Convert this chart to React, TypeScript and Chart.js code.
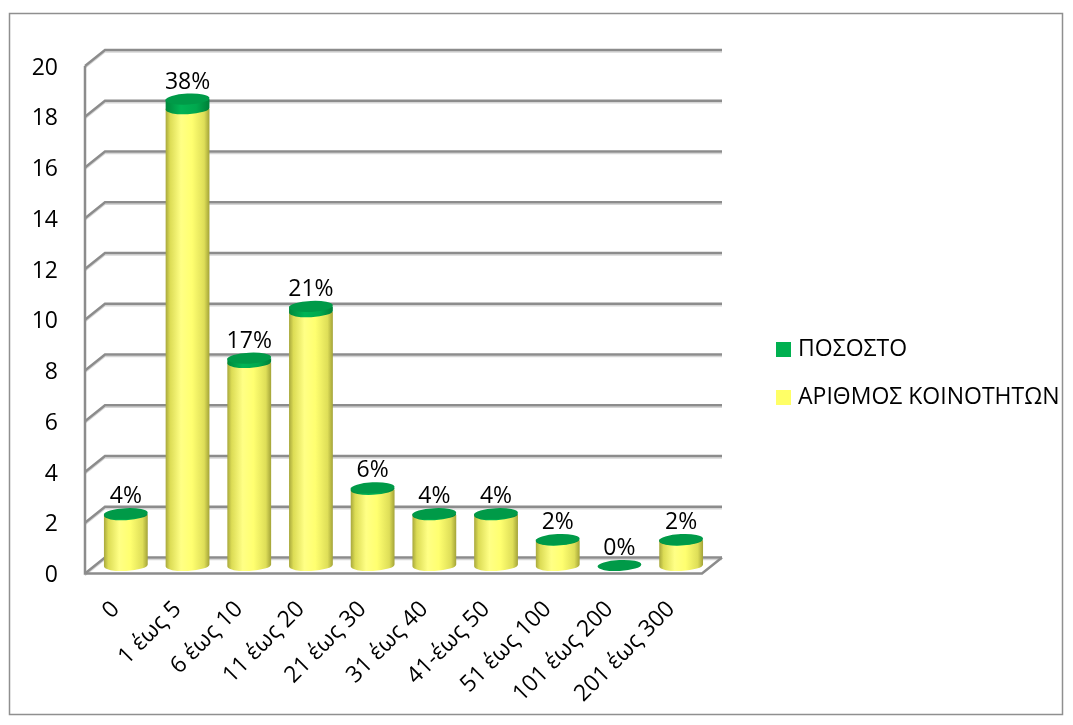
import React, { useEffect, useRef } from "react";
import { Chart, registerables } from "chart.js";

Chart.register(...registerables);

const categories = ["0", "1 έως 5", "6 έως 10", "11 έως 20", "21 έως 30", "31 έως 40", "41-έως 50", "51 έως 100", "101 έως 200", "201 έως 300"];
const countValues = [2, 18, 8, 10, 3, 2, 2, 1, 0, 1];
const percentValues = [0.04, 0.38, 0.17, 0.21, 0.06, 0.04, 0.04, 0.02, 0, 0.02];
const percentLabels = ["4%", "38%", "17%", "21%", "6%", "4%", "4%", "2%", "0%", "2%"];
const yTicks = [0, 2, 4, 6, 8, 10, 12, 14, 16, 18, 20];
const seriesNames = ["ΑΡΙΘΜΟΣ ΚΟΙΝΟΤΗΤΩΝ", "ΠΟΣΟΣΤΟ"];

const FONT = '"Open Sans", "Noto Sans", sans-serif';
const DX = 10;
const DY = 8;
const RY = 5.5;
const TILT = -0.05;

function cylinderBody(ctx: CanvasRenderingContext2D, x: number, top: number, base: number, rx: number, fill: CanvasGradient | string) {
  ctx.beginPath();
  ctx.moveTo(x - rx, top);
  ctx.lineTo(x - rx, base);
  ctx.ellipse(x, base, rx, RY, TILT, Math.PI, 0, true);
  ctx.lineTo(x + rx, top);
  ctx.closePath();
  ctx.fillStyle = fill;
  ctx.fill();
}

const threeDPlugin = {
  id: "threeD",
  beforeDatasetsDraw(chart: any) {
    const { ctx, chartArea, scales } = chart;
    const y = scales.y;
    const x = scales.x;
    const L = chartArea.left;
    const R = chartArea.right;
    ctx.save();
    // outer frame
    ctx.strokeStyle = "#8f8f8f";
    ctx.lineWidth = 1.5;
    ctx.strokeRect(9.5, 13.5, 1053, 701);

    // back wall gridlines with left-wall diagonals
    ctx.lineCap = "butt";
    for (const v of yTicks) {
      const py = y.getPixelForValue(v);
      ctx.strokeStyle = "#d6d6d6";
      ctx.lineWidth = 1.5;
      ctx.beginPath();
      ctx.moveTo(L - DX, py + DY + 2);
      ctx.lineTo(L + DX, py - DY + 2);
      ctx.lineTo(R + DX, py - DY + 2);
      ctx.stroke();
      ctx.strokeStyle = "#8c8c8c";
      ctx.lineWidth = 2.5;
      ctx.beginPath();
      ctx.moveTo(L - DX, py + DY);
      ctx.lineTo(L + DX, py - DY);
      ctx.lineTo(R + DX, py - DY);
      ctx.stroke();
    }
    // front axis and floor
    const y0 = y.getPixelForValue(0);
    const yTop = y.getPixelForValue(yTicks[yTicks.length - 1]);
    ctx.strokeStyle = "#8c8c8c";
    ctx.lineWidth = 2.5;
    ctx.beginPath();
    ctx.moveTo(L - DX, yTop + DY);
    ctx.lineTo(L - DX, y0 + DY);
    ctx.lineTo(R - DX, y0 + DY);
    ctx.lineTo(R + DX, y0 - DY);
    ctx.stroke();

    // tick labels
    ctx.fillStyle = "#000";
    ctx.font = `23px ${FONT}`;
    ctx.textAlign = "right";
    ctx.textBaseline = "middle";
    for (const v of yTicks) {
      ctx.fillText(String(v), L - DX - 27, y.getPixelForValue(v) + DY + 2);
    }

    // category labels
    categories.forEach((c, i) => {
      const cx = x.getPixelForValue(i);
      ctx.save();
      ctx.translate(cx - 10, y0 + DY + 32);
      ctx.rotate(-Math.PI / 4);
      ctx.textAlign = "right";
      ctx.textBaseline = "middle";
      ctx.fillText(c, 0, 0);
      ctx.restore();
    });

    // legend
    const legend = [
      { name: seriesNames[1], color: "#00b050", y: 349.5 },
      { name: seriesNames[0], color: "#ffff66", y: 397.5 },
    ];
    ctx.font = `23px ${FONT}`;
    ctx.textAlign = "left";
    ctx.textBaseline = "middle";
    for (const it of legend) {
      ctx.fillStyle = it.color;
      ctx.fillRect(776, it.y - 7.5, 15, 15);
      ctx.fillStyle = "#000";
      ctx.fillText(it.name, 798, it.y);
    }
    ctx.restore();
  },
  afterDatasetsDraw(chart: any) {
    const { ctx } = chart;
    const m0 = chart.getDatasetMeta(0);
    const m1 = chart.getDatasetMeta(1);
    ctx.save();
    categories.forEach((_, i) => {
      const ye = m0.data[i].getProps(["x", "y", "base", "width"], true);
      const ge = m1.data[i].getProps(["x", "y", "base", "width"], true);
      const cx = ye.x;
      const rx = ye.width / 2;
      const yg = ctx.createLinearGradient(cx - rx, 0, cx + rx, 0);
      yg.addColorStop(0, "#a8a83c");
      yg.addColorStop(0.1, "#dcdc55");
      yg.addColorStop(0.35, "#ffff85");
      yg.addColorStop(0.6, "#ffff70");
      yg.addColorStop(0.88, "#dede58");
      yg.addColorStop(1, "#a3a338");
      const gg = ctx.createLinearGradient(cx - rx, 0, cx + rx, 0);
      gg.addColorStop(0, "#00883c");
      gg.addColorStop(0.35, "#00b455");
      gg.addColorStop(0.7, "#00a84e");
      gg.addColorStop(1, "#007f38");
      if (countValues[i] > 0) cylinderBody(ctx, cx, ye.y, ye.base, rx, yg);
      if (ge.base - ge.y > 0.3) cylinderBody(ctx, cx, ge.y, ge.base, rx, gg);
      // top cap
      ctx.beginPath();
      ctx.ellipse(cx, ge.y, rx, RY, TILT, 0, Math.PI * 2);
      ctx.fillStyle = "#009a48";
      ctx.fill();
      // data label
      ctx.fillStyle = "#000";
      ctx.font = `23px ${FONT}`;
      ctx.textAlign = "center";
      ctx.textBaseline = "middle";
      ctx.fillText(percentLabels[i], cx, ge.y - 17);
    });
    ctx.restore();
  },
};

export default function App() {
  const ref = useRef<HTMLCanvasElement>(null);
  useEffect(() => {
    if (!ref.current) return;
    const chart = new Chart(ref.current, {
      type: "bar",
      data: {
        labels: categories,
        datasets: [
          { label: seriesNames[0], data: countValues, stack: "s", backgroundColor: "rgba(0,0,0,0)", borderWidth: 0 },
          { label: seriesNames[1], data: percentValues, stack: "s", backgroundColor: "rgba(0,0,0,0)", borderWidth: 0 },
        ],
      },
      options: {
        responsive: false,
        animation: false,
        events: [],
        layout: { padding: { left: 95, right: 361, top: 58, bottom: 159.5 } },
        datasets: { bar: { categoryPercentage: 0.71, barPercentage: 1 } },
        scales: {
          x: { stacked: true, display: false },
          y: { stacked: true, display: false, min: 0, max: 20 },
        },
        plugins: { legend: { display: false }, tooltip: { enabled: false } },
      },
      plugins: [threeDPlugin],
    });
    return () => chart.destroy();
  }, []);
  return (
    <div style={{ position: "fixed", left: 0, top: 0, width: 1073, height: 725, background: "#fff" }}>
      <canvas ref={ref} width={1073} height={725} />
    </div>
  );
}
